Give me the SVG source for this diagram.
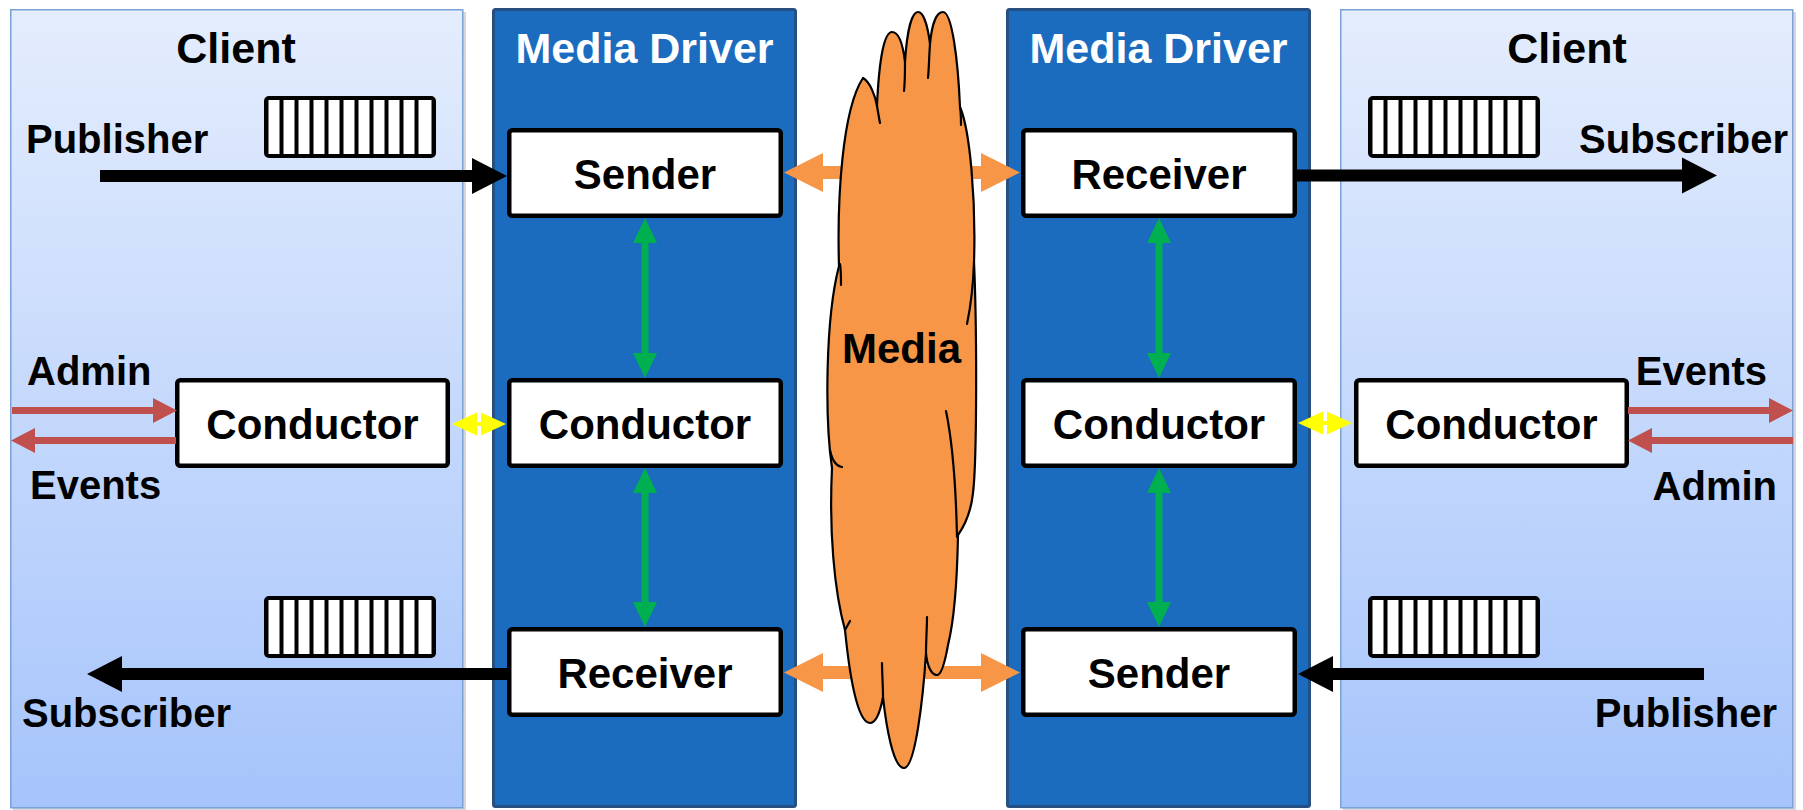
<svg xmlns="http://www.w3.org/2000/svg" xmlns:xlink="http://www.w3.org/1999/xlink" width="1803" height="810" viewBox="0 0 1803 810">
  <style>
    text { font-family: "Liberation Sans", Arial, sans-serif; font-weight: bold; }
    .client { stroke: #7ba2d6; stroke-width: 1.5; fill: url(#clientFill); }
    .shadow { fill: #d4d8de; }
    .driver { fill: #1b6cbf; stroke: #264f82; stroke-width: 3; }
    .title { font-size: 43px; text-anchor: middle; fill: #000; }
    .title-w { font-size: 43px; text-anchor: middle; fill: #fff; }
    .box { fill: #fff; stroke: #000; stroke-width: 4.5; }
    .box-label { font-size: 42px; text-anchor: middle; fill: #000; }
    .side { font-size: 40px; fill: #000; }
    .flow { stroke: #000; stroke-width: 12; fill: none; }
    .wire { stroke: #f79646; stroke-width: 13; fill: none; }
    .ctl { stroke: #00b050; stroke-width: 7; fill: none; }
    .api { stroke: #c0504d; stroke-width: 7; fill: none; }
    .ipc { stroke: #ffff00; stroke-width: 4; fill: none; }
    .cloud { fill: #f79646; stroke: #000; stroke-width: 2.2; stroke-linejoin: round; }
    .cloud-line { fill: none; stroke: #000; stroke-width: 2.2; stroke-linecap: round; }
  </style>
  <defs>
    <linearGradient id="clientFill" x1="0" y1="0" x2="0" y2="1">
      <stop offset="0" stop-color="#e4edfd"/>
      <stop offset="1" stop-color="#a6c4fb"/>
    </linearGradient>
    <!-- ring buffer glyph: framed strip of 11 slots -->
    <g id="queue-icon">
      <rect x="0" y="0" width="172" height="62" rx="5" fill="#000"/>
      <g fill="#fff">
        <rect x="4.5" y="4" width="11" height="54"/>
        <rect x="19.5" y="4" width="11" height="54"/>
        <rect x="34.5" y="4" width="11" height="54"/>
        <rect x="49.5" y="4" width="11" height="54"/>
        <rect x="64.5" y="4" width="11" height="54"/>
        <rect x="79.5" y="4" width="11" height="54"/>
        <rect x="94.5" y="4" width="11" height="54"/>
        <rect x="109.5" y="4" width="11" height="54"/>
        <rect x="124.5" y="4" width="11" height="54"/>
        <rect x="139.5" y="4" width="11" height="54"/>
        <rect x="154.5" y="4" width="13" height="54"/>
      </g>
    </g>
    <marker id="head-black" markerUnits="userSpaceOnUse" markerWidth="36" markerHeight="36" refX="0" refY="18" orient="auto-start-reverse" overflow="visible">
      <path d="M0,0 L35,18 L0,36 Z" fill="#000"/>
    </marker>
    <marker id="head-orange" markerUnits="userSpaceOnUse" markerWidth="39" markerHeight="40" refX="0" refY="19.5" orient="auto-start-reverse" overflow="visible">
      <path d="M0,0 L39,19.5 L0,39 Z" fill="#f79646"/>
    </marker>
    <marker id="head-green" markerUnits="userSpaceOnUse" markerWidth="25" markerHeight="24" refX="0" refY="12" orient="auto-start-reverse" overflow="visible">
      <path d="M0,0 L25,12 L0,24 Z" fill="#00b050"/>
    </marker>
    <marker id="head-red" markerUnits="userSpaceOnUse" markerWidth="25" markerHeight="25" refX="0" refY="12.5" orient="auto-start-reverse" overflow="visible">
      <path d="M0,0 L24,12.5 L0,25 Z" fill="#c0504d"/>
    </marker>
    <marker id="head-yellow" markerUnits="userSpaceOnUse" markerWidth="26" markerHeight="23" refX="0" refY="11.5" orient="auto-start-reverse" overflow="visible">
      <path d="M0,0 L25,11.5 L0,23 Z" fill="#ffff00"/>
    </marker>
  </defs>

  <rect width="1803" height="810" fill="#fff"/>

  <!-- left client process -->
  <g id="client-left">
    <rect class="shadow" x="13" y="12" width="453" height="799"/>
    <rect class="client" x="10.75" y="9.75" width="452" height="798"/>
    <text class="title" x="236" y="63">Client</text>
    <use xlink:href="#queue-icon" href="#queue-icon" x="264" y="96"/>
    <use xlink:href="#queue-icon" href="#queue-icon" x="264" y="596"/>
    <text class="side" x="26" y="153">Publisher</text>
    <text class="side" x="22" y="727">Subscriber</text>
    <text class="side" x="27" y="385">Admin</text>
    <text class="side" x="30" y="499">Events</text>
  </g>

  <!-- left media driver -->
  <g id="driver-left">
    <rect class="driver" x="493.5" y="9.5" width="302" height="797" rx="2"/>
    <text class="title-w" x="644.5" y="63">Media Driver</text>
  </g>

  <!-- right media driver -->
  <g id="driver-right">
    <rect class="driver" x="1007.5" y="9.5" width="302" height="797" rx="2"/>
    <text class="title-w" x="1158.5" y="63">Media Driver</text>
  </g>

  <!-- right client process -->
  <g id="client-right">
    <rect class="shadow" x="1343" y="12" width="453" height="799"/>
    <rect class="client" x="1340.75" y="9.75" width="452" height="798"/>
    <text class="title" x="1567" y="63">Client</text>
    <use xlink:href="#queue-icon" href="#queue-icon" x="1368" y="96"/>
    <use xlink:href="#queue-icon" href="#queue-icon" x="1368" y="596"/>
    <text class="side" x="1788" y="153" text-anchor="end">Subscriber</text>
    <text class="side" x="1777" y="727" text-anchor="end">Publisher</text>
    <text class="side" x="1767" y="385" text-anchor="end">Events</text>
    <text class="side" x="1777" y="500" text-anchor="end">Admin</text>
  </g>

  <!-- agent boxes -->
  <g id="sender-left">
    <rect class="box" x="509.25" y="130.25" width="271.5" height="85.5" rx="3"/>
    <text class="box-label" x="645" y="189">Sender</text>
  </g>
  <g id="conductor-left">
    <rect class="box" x="509.25" y="380.25" width="271.5" height="85.5" rx="3"/>
    <text class="box-label" x="645" y="439">Conductor</text>
  </g>
  <g id="receiver-left">
    <rect class="box" x="509.25" y="629.25" width="271.5" height="85.5" rx="3"/>
    <text class="box-label" x="645" y="688">Receiver</text>
  </g>
  <g id="client-conductor-left">
    <rect class="box" x="177.25" y="380.25" width="270.5" height="85.5" rx="3"/>
    <text class="box-label" x="312.5" y="439">Conductor</text>
  </g>
  <g id="receiver-right">
    <rect class="box" x="1023.25" y="130.25" width="271.5" height="85.5" rx="3"/>
    <text class="box-label" x="1159" y="189">Receiver</text>
  </g>
  <g id="conductor-right">
    <rect class="box" x="1023.25" y="380.25" width="271.5" height="85.5" rx="3"/>
    <text class="box-label" x="1159" y="439">Conductor</text>
  </g>
  <g id="sender-right">
    <rect class="box" x="1023.25" y="629.25" width="271.5" height="85.5" rx="3"/>
    <text class="box-label" x="1159" y="688">Sender</text>
  </g>
  <g id="client-conductor-right">
    <rect class="box" x="1356.25" y="380.25" width="270.5" height="85.5" rx="3"/>
    <text class="box-label" x="1491.5" y="439">Conductor</text>
  </g>

  <!-- connectors -->
  <g id="connectors">
    <!-- publication / subscription data paths -->
    <line class="flow" x1="100" y1="176" x2="472" y2="176" marker-end="url(#head-black)"/>
    <line class="flow" x1="1296" y1="175.5" x2="1682" y2="175.5" marker-end="url(#head-black)"/>
    <line class="flow" x1="507" y1="674" x2="122" y2="674" marker-end="url(#head-black)"/>
    <line class="flow" x1="1704" y1="674" x2="1333" y2="674" marker-end="url(#head-black)"/>
    <!-- network links between drivers -->
    <line class="wire" x1="823" y1="172.5" x2="981" y2="172.5" marker-start="url(#head-orange)" marker-end="url(#head-orange)"/>
    <line class="wire" x1="823" y1="672.5" x2="981" y2="672.5" marker-start="url(#head-orange)" marker-end="url(#head-orange)"/>
    <!-- conductor control links inside each driver -->
    <line class="ctl" x1="645" y1="243" x2="645" y2="353" marker-start="url(#head-green)" marker-end="url(#head-green)"/>
    <line class="ctl" x1="645" y1="493" x2="645" y2="602" marker-start="url(#head-green)" marker-end="url(#head-green)"/>
    <line class="ctl" x1="1159" y1="243" x2="1159" y2="353" marker-start="url(#head-green)" marker-end="url(#head-green)"/>
    <line class="ctl" x1="1159" y1="493" x2="1159" y2="602" marker-start="url(#head-green)" marker-end="url(#head-green)"/>
    <!-- client to driver IPC -->
    <line class="ipc" x1="477" y1="424" x2="481" y2="424" marker-start="url(#head-yellow)" marker-end="url(#head-yellow)"/>
    <line class="ipc" x1="1323" y1="423" x2="1327" y2="423" marker-start="url(#head-yellow)" marker-end="url(#head-yellow)"/>
    <!-- admin commands and events -->
    <line class="api" x1="12" y1="410.5" x2="153" y2="410.5" marker-end="url(#head-red)"/>
    <line class="api" x1="176" y1="440.5" x2="35" y2="440.5" marker-end="url(#head-red)"/>
    <line class="api" x1="1628" y1="410.5" x2="1769" y2="410.5" marker-end="url(#head-red)"/>
    <line class="api" x1="1793" y1="440.5" x2="1652" y2="440.5" marker-end="url(#head-red)"/>
  </g>

  <!-- transport medium -->
  <g id="media">
    <path class="cloud" d="M 845,630 C 834,590 829,530 832,468 C 825,420 825,320 839,266 C 837,200 842,110 863,78 C 870,82 875,95 877,106 C 879,60 884,32 892,32 C 899,32 903,45 905,62 C 907,30 912,12 918,12 C 924,12 928,28 930,44 C 932,22 937,12 943,12 C 952,12 958,60 960,107 C 970,130 976,200 974,262 C 977,330 977,460 973,493 C 971,512 965,525 958,535 C 957,590 953,625 948,645 C 945,662 941,675 937,675 C 931,675 927,665 926,653 C 923,700 915,768 904,768 C 893,768 886,725 883,697 C 880,713 876,723 870,723 C 858,723 850,680 845,630 Z"/>
    <path class="cloud-line" d="M 877,106 C 878,112 879,118 880,123 M 905,62 C 905,72 905,82 904,91 M 930,44 C 929,58 929,68 928,78 M 960,107 C 961,113 961,119 961,125 M 840,264 C 841,270 841,278 841,285 M 830,450 C 832,460 836,466 842,467 M 974,262 C 973,290 971,305 967,324 M 946,411 C 952,440 956,490 957,537 M 845,630 L 850,621 M 883,697 C 883,685 882,673 882,663 M 926,653 C 926,640 927,628 927,617"/>
    <text class="box-label" x="901.5" y="363">Media</text>
  </g>
</svg>
